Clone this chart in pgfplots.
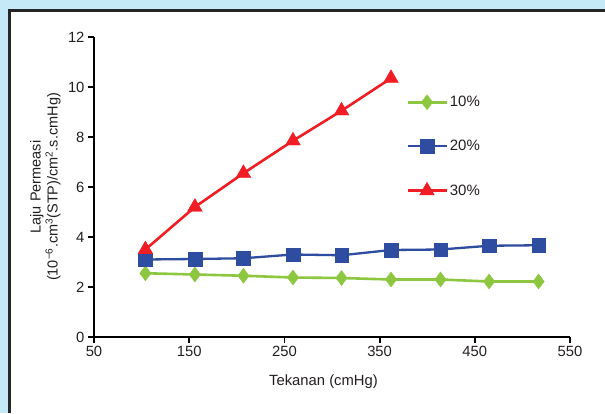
\documentclass[border=0pt]{standalone}
\usepackage{pgfplots}
\pgfplotsset{compat=1.18}
\usepackage{fontspec}
\setmainfont{Liberation Sans}
\definecolor{bgblue}{RGB}{198,233,248}
\definecolor{cgreen}{RGB}{141,198,63}
\definecolor{cblue}{RGB}{46,76,160}
\definecolor{cred}{RGB}{240,30,36}
\definecolor{ctext}{RGB}{35,31,32}
\begin{document}
\begin{tikzpicture}
\useasboundingbox (-94pt,-76pt) rectangle (511pt,337pt);
\fill[bgblue] (-94pt,-76pt) rectangle (511pt,337pt);
\fill[white] (-84.3pt,-76pt) rectangle (511pt,326.3pt);
\draw[line width=2.7pt,black!85] (-84.3pt,-76pt) -- (-84.3pt,326.3pt) -- (511pt,326.3pt);
\begin{axis}[
  scale only axis, width=476pt, height=300pt,
  xmin=50, xmax=550, ymin=0, ymax=12,
  axis lines=left, axis line style={line width=2.8pt,-},
  xtick={50,150,...,550}, ytick={0,2,...,12},
  tick align=outside, major tick length=6pt,
  tick style={line width=1.8pt,black},
  ticklabel style={font=\fontsize{14.8}{16}\selectfont, text=ctext},
  /pgf/number format/assume math mode=true,
  clip=false,
  xlabel={Tekanan (cmHg)},
  xlabel style={at={(axis description cs:0.4821,-0.16)}, anchor=base, font=\fontsize{14.8}{16}\selectfont, text=ctext},
  ylabel={Laju Permeasi\\(10\textsuperscript{−6}.cm\textsuperscript{3}(STP)/cm\textsuperscript{2}.s.cmHg)},
  ylabel style={at={(axis description cs:-0.1019,0.5)}, anchor=center, align=center, font=\fontsize{14.5}{17}\selectfont, text=ctext},
  legend image code/.code={\draw[mark repeat=2,mark phase=2,#1] plot coordinates {(0pt,0pt) (19.5pt,0pt) (39pt,0pt)};},
  legend style={draw=none, fill=none, at={(axis description cs:0.6555,0.635)}, anchor=west, inner sep=0pt, row sep=28pt, font=\fontsize{15}{16}\selectfont, text=ctext, legend cell align=left, /tikz/every even column/.append style={column sep=8pt}},
]
\addplot[cgreen, line width=2.6pt, mark=diamond*, mark size=7.5pt, mark options={solid, fill=cgreen, draw=cgreen, line width=0.4pt}] coordinates {(104,2.55)(156,2.5)(207,2.45)(259,2.38)(310,2.36)(362,2.3)(414,2.3)(465,2.22)(517,2.22)};
\addlegendentry{10\%}
\addplot[cblue, line width=2.3pt, mark=square*, mark size=6.8pt, mark options={solid, fill=cblue, draw=cblue, line width=0.4pt}] coordinates {(104,3.1)(156,3.12)(207,3.15)(259,3.3)(310,3.27)(362,3.48)(414,3.5)(465,3.65)(517,3.67)};
\addlegendentry{20\%}
\addplot[cred, line width=2.6pt, mark=triangle*, mark size=8.5pt, mark options={solid, fill=cred, draw=cred, line width=0.4pt}] coordinates {(104,3.5)(156,5.2)(207,6.55)(259,7.85)(310,9.05)(362,10.35)};
\addlegendentry{30\%}
\end{axis}
\end{tikzpicture}
\end{document}
